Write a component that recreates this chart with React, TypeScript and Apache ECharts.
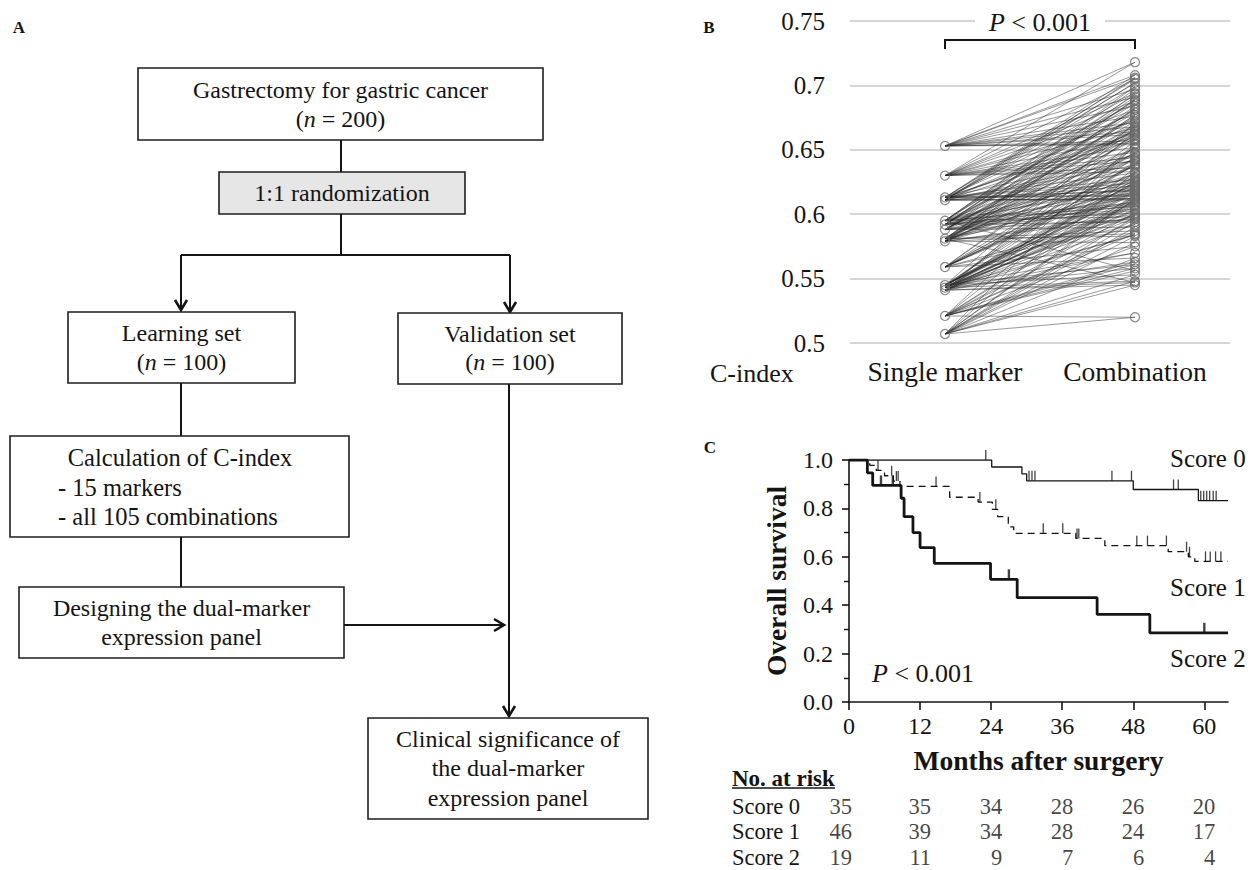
import React, { useEffect, useRef } from "react";
import * as echarts from "echarts";

const FONT = "'Liberation Serif', 'Times New Roman', Times, serif";
const INK = "#141414";

// ---------- Panel B data ----------
const markerCategories = ["Single marker", "Combination"];
const singleMarkerCIndex = [0.653, 0.63, 0.613, 0.611, 0.595, 0.592, 0.588, 0.581, 0.579, 0.559, 0.545, 0.543, 0.541, 0.521, 0.507];
// C-index of each dual-marker combination, listed pair by pair (marker i with marker j, i < j)
const combinationCIndex = [
  0.718, 0.708, 0.706, 0.697, 0.691, 0.668, 0.684, 0.676, 0.662, 0.671, 0.657, 0.664, 0.655, 0.654,
  0.705, 0.694, 0.688, 0.681, 0.672, 0.667, 0.659, 0.648, 0.644, 0.652, 0.641, 0.636, 0.633,
  0.702, 0.686, 0.679, 0.663, 0.661, 0.646, 0.632, 0.627, 0.624, 0.618, 0.615, 0.614,
  0.699, 0.674, 0.669, 0.658, 0.642, 0.638, 0.622, 0.619, 0.612, 0.611, 0.612,
  0.693, 0.665, 0.651, 0.637, 0.629, 0.621, 0.609, 0.606, 0.556, 0.598,
  0.689, 0.647, 0.631, 0.626, 0.617, 0.608, 0.604, 0.601, 0.594,
  0.682, 0.643, 0.623, 0.613, 0.607, 0.603, 0.596, 0.59,
  0.677, 0.628, 0.616, 0.61, 0.547, 0.587, 0.583,
  0.666, 0.62, 0.6, 0.597, 0.585, 0.578,
  0.639, 0.599, 0.592, 0.575, 0.566,
  0.625, 0.57, 0.561, 0.553,
  0.584, 0.558, 0.548,
  0.563, 0.545,
  0.52,
];

// ---------- Panel C data ----------
const score0Months = [0, 24.1, 29.2, 30.0, 48.0, 59.0, 64];
const score0Surv = [1.0, 0.971, 0.943, 0.914, 0.878, 0.832, 0.832];
const score0Censor = [23.1, 30.4, 30.9, 31.4, 44.4, 47.7, 54.8, 55.6, 59.4, 59.9, 60.4, 60.9, 61.5, 62.0];

const score1Months = [0, 3.5, 4.6, 6.0, 7.5, 8.6, 17.0, 21.8, 24.2, 25.1, 26.9, 27.8, 38.3, 43.2, 53.9, 57.3, 58.4, 64];
const score1Surv = [1.0, 0.978, 0.957, 0.935, 0.913, 0.891, 0.846, 0.826, 0.796, 0.766, 0.724, 0.697, 0.676, 0.646, 0.621, 0.6, 0.581, 0.581];
const score1Censor = [4.9, 7.2, 8.0, 8.3, 14.7, 22.1, 24.8, 32.8, 36.1, 38.5, 38.8, 48.6, 50.4, 53.6, 57.0, 57.5, 60.2, 61.0, 61.9, 62.8];

const score2Months = [0, 3.1, 4.0, 8.8, 9.3, 10.8, 12.0, 14.4, 23.9, 28.4, 41.9, 50.8, 64];
const score2Surv = [1.0, 0.947, 0.895, 0.842, 0.766, 0.7, 0.638, 0.573, 0.507, 0.431, 0.362, 0.286, 0.286];
const score2Censor = [5.4, 7.4, 27.0, 60.0];

const survivalTicks = [0, 0.2, 0.4, 0.6, 0.8, 1.0];
const monthTicks = [0, 12, 24, 36, 48, 60];

const riskGroups = ["Score 0", "Score 1", "Score 2"];
const riskMonths = [0, 12, 24, 36, 48, 60];
const riskScore0 = [35, 35, 34, 28, 26, 20];
const riskScore1 = [46, 39, 34, 28, 24, 17];
const riskScore2 = [19, 11, 9, 7, 6, 4];

// ---------- Panel A texts ----------
const boxTop = ["Gastrectomy for gastric cancer", "({i|n} = 200)"];
const boxRandom = ["1:1 randomization"];
const boxLearning = ["Learning set", "({i|n} = 100)"];
const boxValidation = ["Validation set", "({i|n} = 100)"];
const boxCalc = ["Calculation of C-index", "- 15 markers", "- all 105 combinations"];
const boxDesign = ["Designing the dual-marker", "expression panel"];
const boxClinical = ["Clinical significance of", "the dual-marker", "expression panel"];

function survAt(months: number[], surv: number[], t: number) {
  let s = surv[0];
  for (let k = 0; k < months.length; k++) if (months[k] <= t) s = surv[k];
  return s;
}

function txt(x: number, y: number, text: string, o: any = {}) {
  const fs = o.fontSize || 24;
  return {
    type: "text",
    x,
    y,
    z: 100,
    silent: true,
    style: {
      text,
      fill: INK,
      fontFamily: FONT,
      fontSize: fs,
      fontWeight: o.fontWeight || "normal",
      align: o.align || "center",
      verticalAlign: "middle",
      backgroundColor: o.backgroundColor,
      padding: o.padding,
      rich: { i: { fontStyle: "italic", fontFamily: FONT, fontSize: fs, fill: INK } },
    },
  };
}
function box(x: number, y: number, w: number, h: number, fill = "#fff") {
  return { type: "rect", z: 50, shape: { x, y, width: w, height: h }, style: { fill, stroke: "#1e1e1e", lineWidth: 1.6 } };
}
function pl(points: number[][], lw = 2) {
  return { type: "polyline", z: 50, shape: { points }, style: { stroke: INK, lineWidth: lw, fill: null } };
}
function arrowDown(x: number, y: number) {
  return pl([[x - 6, y - 10], [x, y], [x + 6, y - 10]], 2.6);
}
function arrowRight(x: number, y: number) {
  return pl([[x - 10, y - 6], [x, y], [x - 10, y + 6]], 2.6);
}

export default function App() {
  const ref = useRef<HTMLDivElement>(null);
  useEffect(() => {
    const chart = echarts.init(ref.current!, null, { renderer: "svg" });

    // ----- Panel B series -----
    const pairSeries: any[] = [];
    const comboPoints: number[][] = [];
    let k = 0;
    for (let i = 0; i < singleMarkerCIndex.length; i++) {
      for (let j = i + 1; j < singleMarkerCIndex.length; j++) {
        const c = combinationCIndex[k++];
        comboPoints.push([1, c]);
        pairSeries.push({
          type: "line",
          xAxisIndex: 0,
          yAxisIndex: 0,
          data: [[0, singleMarkerCIndex[i]], [1, c], [0, singleMarkerCIndex[j]]],
          showSymbol: false,
          symbol: "none",
          silent: true,
          lineStyle: { color: "rgba(40,40,40,0.6)", width: 0.8 },
          z: 2,
        });
      }
    }
    const circleStyle = { color: "rgba(255,255,255,0)", borderColor: "#6a6a6a", borderWidth: 1.2 };

    const kmLine = (months: number[], surv: number[], lineStyle: any) => ({
      type: "line",
      xAxisIndex: 1,
      yAxisIndex: 1,
      step: "end",
      symbol: "none",
      silent: true,
      data: months.map((m, idx) => [m, surv[idx]]),
      lineStyle: { color: INK, ...lineStyle },
      z: 3,
    });
    const censor = (times: number[], months: number[], surv: number[], w: number) => ({
      type: "scatter",
      xAxisIndex: 1,
      yAxisIndex: 1,
      symbol: "rect",
      symbolSize: [w, 10],
      symbolOffset: [0, -5],
      silent: true,
      itemStyle: { color: INK },
      data: times.map((t) => [t, survAt(months, surv, t)]),
      z: 4,
    });

    const riskRows = [riskScore0, riskScore1, riskScore2];
    const riskData: any[] = [];
    riskRows.forEach((row, r) =>
      row.forEach((n, c) =>
        riskData.push({ value: [riskMonths[c], r, n], label: { offset: [riskMonths[c] === 0 ? 3 : 11, 0] } })
      )
    );

    const axisFont = { fontFamily: FONT, color: INK };

    const option: any = {
      animation: false,
      textStyle: { fontFamily: FONT },
      grid: [
        { left: 850, right: 22, top: 21, bottom: 527 },
        { left: 849, right: 24, top: 460, bottom: 168 },
        { left: 849, right: 24, top: 793.5, height: 79 },
      ],
      xAxis: [
        {
          gridIndex: 0,
          type: "category",
          data: markerCategories,
          boundaryGap: true,
          axisLine: { show: false },
          axisTick: { show: false },
          axisLabel: { ...axisFont, fontSize: 27.5, margin: 14, interval: 0, hideOverlap: false },
        },
        {
          gridIndex: 1,
          type: "value",
          min: 0,
          max: 64,
          interval: 12,
          splitLine: { show: false },
          axisLine: { lineStyle: { color: INK, width: 1.6 } },
          axisTick: { show: true, length: 8, lineStyle: { color: INK, width: 1.6 }, customValues: monthTicks },
          axisLabel: { ...axisFont, fontSize: 24, margin: 12, customValues: monthTicks },
          name: "Months after surgery",
          nameLocation: "middle",
          nameGap: 44,
          nameTextStyle: { fontFamily: FONT, fontSize: 27.5, fontWeight: "bold", color: INK },
        },
        { gridIndex: 2, type: "value", min: 0, max: 64, show: false },
      ],
      yAxis: [
        {
          gridIndex: 0,
          type: "value",
          min: 0.5,
          max: 0.75,
          interval: 0.05,
          axisLine: { show: false },
          axisTick: { show: false },
          splitLine: { lineStyle: { color: "#c9c9c9", width: 1.5 } },
          axisLabel: {
            ...axisFont,
            fontSize: 25,
            margin: 25,
            formatter: (v: number) => String(parseFloat(v.toFixed(2))),
          },
        },
        {
          gridIndex: 1,
          type: "value",
          min: 0,
          max: 1,
          interval: 0.2,
          splitLine: { show: false },
          axisLine: { show: true, lineStyle: { color: INK, width: 1.6 } },
          axisTick: { show: true, length: 7, lineStyle: { color: INK, width: 1.6 }, customValues: survivalTicks },
          minorTick: { show: true, splitNumber: 2, length: 5, lineStyle: { color: INK, width: 1.4 } },
          axisLabel: { ...axisFont, fontSize: 24, margin: 16, formatter: (v: number) => v.toFixed(1) },
          name: "Overall survival",
          nameLocation: "middle",
          nameGap: 59,
          nameTextStyle: { fontFamily: FONT, fontSize: 27.5, fontWeight: "bold", color: INK },
        },
        {
          gridIndex: 2,
          type: "category",
          data: riskGroups,
          inverse: true,
          axisLine: { show: false },
          axisTick: { show: false },
          axisLabel: { ...axisFont, fontSize: 22.5, align: "left", margin: 117, interval: 0, hideOverlap: false },
        },
      ],
      series: [
        ...pairSeries,
        {
          type: "scatter",
          xAxisIndex: 0,
          yAxisIndex: 0,
          symbol: "circle",
          symbolSize: 9,
          silent: true,
          itemStyle: circleStyle,
          data: singleMarkerCIndex.map((v) => [0, v]),
          z: 5,
        },
        {
          type: "scatter",
          xAxisIndex: 0,
          yAxisIndex: 0,
          symbol: "circle",
          symbolSize: 9,
          silent: true,
          itemStyle: circleStyle,
          data: comboPoints,
          z: 5,
        },
        kmLine(score0Months, score0Surv, { width: 1.3 }),
        kmLine(score1Months, score1Surv, { width: 1.3, type: [7, 5] }),
        kmLine(score2Months, score2Surv, { width: 2.8 }),
        censor(score0Censor, score0Months, score0Surv, 1.3),
        censor(score1Censor, score1Months, score1Surv, 1.3),
        censor(score2Censor, score2Months, score2Surv, 2.4),
        {
          type: "scatter",
          xAxisIndex: 2,
          yAxisIndex: 2,
          symbolSize: 0,
          silent: true,
          data: riskData,
          label: {
            show: true,
            position: "inside",
            align: "right",
            verticalAlign: "middle",
            fontFamily: FONT,
            fontSize: 22.5,
            color: INK,
            textBorderWidth: 0,
            formatter: (p: any) => String(p.value[2]),
          },
        },
      ],
    };
    chart.setOption(option);

    // annotations anchored on the axes' scales
    const pSingleTop = chart.convertToPixel({ xAxisIndex: 0, yAxisIndex: 0 }, [0, 0.75]) as number[];
    const pComboTop = chart.convertToPixel({ xAxisIndex: 0, yAxisIndex: 0 }, [1, 0.75]) as number[];
    const bTop = pSingleTop[1] + 19;
    const bx0 = pSingleTop[0];
    const bx1 = pComboTop[0];
    const pC = chart.convertToPixel({ xAxisIndex: 1, yAxisIndex: 1 }, [0, 0.11]) as number[];

    const graphic: any[] = [
      // panel labels
      txt(19, 27, "A", { fontSize: 17, fontWeight: "bold" }),
      txt(709, 27, "B", { fontSize: 17, fontWeight: "bold" }),
      txt(710, 447, "C", { fontSize: 17, fontWeight: "bold" }),

      // ----- flowchart -----
      box(138, 68, 405, 72),
      txt(340.5, 89.5, boxTop[0]),
      txt(340.5, 118.5, boxTop[1]),
      pl([[341, 140], [341, 172]]),
      box(219, 172, 246, 42, "#e6e6e6"),
      txt(342, 193, boxRandom[0]),
      pl([[341, 214], [341, 255]]),
      pl([[181, 255], [510, 255]]),
      pl([[181, 255], [181, 310]]),
      arrowDown(181, 310),
      pl([[510, 255], [510, 312]]),
      arrowDown(510, 312),
      box(68, 312, 227, 71),
      txt(181.5, 332.5, boxLearning[0]),
      txt(181.5, 362, boxLearning[1]),
      box(398, 313, 224, 71),
      txt(510, 333.5, boxValidation[0]),
      txt(510, 362, boxValidation[1]),
      pl([[181, 383], [181, 436]]),
      box(10, 436, 339, 101),
      txt(180, 457, boxCalc[0], { fontSize: 24.5 }),
      txt(58, 487, boxCalc[1], { fontSize: 24.5, align: "left" }),
      txt(58, 516, boxCalc[2], { fontSize: 24.5, align: "left" }),
      pl([[181, 537], [181, 587]]),
      box(19, 587, 325, 71),
      txt(181.5, 607.5, boxDesign[0]),
      txt(181.5, 637, boxDesign[1]),
      pl([[344, 625], [503, 625]]),
      arrowRight(504, 625),
      pl([[509, 384], [509, 716]]),
      arrowDown(509, 716),
      box(368, 718, 280, 101),
      txt(508, 738.5, boxClinical[0]),
      txt(508, 768, boxClinical[1]),
      txt(508, 798, boxClinical[2]),

      // ----- panel B annotations -----
      pl([[bx0, bTop + 9], [bx0, bTop], [bx1, bTop], [bx1, bTop + 9]], 2),
      txt((bx0 + bx1) / 2, pSingleTop[1] + 1, "{i|P} < 0.001", {
        fontSize: 26,
        backgroundColor: "#fff",
        padding: [2, 14, 2, 14],
      }),
      txt(710, 373, "C-index", { fontSize: 26, align: "left" }),

      // ----- panel C annotations -----
      txt(872, pC[1] - 2, "{i|P} < 0.001", { fontSize: 26, align: "left" }),
      txt(1170, 458, "Score 0", { fontSize: 25, align: "left" }),
      txt(1170, 587, "Score 1", { fontSize: 25, align: "left" }),
      txt(1170, 658, "Score 2", { fontSize: 25, align: "left" }),
      txt(732, 778, "No. at risk", { fontSize: 23, align: "left", fontWeight: "bold" }),
      { type: "line", z: 100, shape: { x1: 732, y1: 788, x2: 835, y2: 788 }, style: { stroke: INK, lineWidth: 1.4 } },
    ];
    chart.setOption({ graphic });

    return () => chart.dispose();
  }, []);
  return (
    <div
      ref={ref}
      style={{ position: "fixed", left: 0, top: 0, width: 1252, height: 870, background: "#fff" }}
    />
  );
}
